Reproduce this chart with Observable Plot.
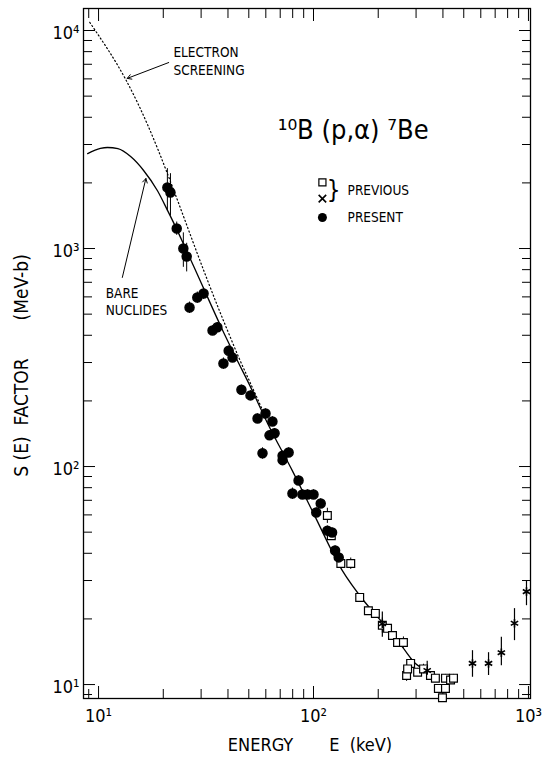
<!DOCTYPE html>
<html><head><meta charset="utf-8">
<script src="https://cdn.jsdelivr.net/npm/d3@7"></script>
<script src="https://cdn.jsdelivr.net/npm/@observablehq/plot@0.6"></script>
<style>
html,body{margin:0;padding:0;background:#fff}
</style>
</head><body><div id="chart"></div>
<script>
// ---- data ----
const presentE = [20.9, 21.6, 23.1, 24.8, 25.7, 26.5, 28.8, 30.8, 33.9, 35.7, 40.3, 42.0, 38.1, 46.2, 50.9, 54.9, 59.8, 64.4, 62.4, 65.9, 57.9, 71.8, 71.8, 76.6, 85.2, 79.8, 88.8, 93.8, 100, 108, 103, 116, 122, 126, 131];
const presentS = [1906, 1807, 1236, 1000, 919, 536, 596, 622, 421, 435, 340, 316, 297, 225, 212, 166, 175, 161, 139, 142, 115, 112, 107, 116, 86.3, 75.2, 74.4, 74.4, 74.4, 67.7, 61.5, 50.8, 49.8, 41.2, 38.3];
const presentErr = [22, 22, 7, 18, 15, 6, 6, 6, 5, 5, 5, 5, 6, 5, 5, 5, 5, 5, 5, 5, 6, 5, 5, 5, 5, 6, 5, 5, 5, 5, 5, 5, 5, 5, 5];

const previousE = [116, 121, 134, 149, 164, 180, 194, 209, 221, 233, 246, 262, 283, 271, 274, 305, 325, 350, 369, 411, 381, 411, 398, 434, 448];
const previousS = [59.6, 48.2, 35.9, 35.9, 25.1, 21.8, 21.2, 18.7, 18.1, 16.8, 15.6, 15.6, 12.5, 11.0, 11.8, 11.4, 11.8, 11.0, 10.7, 10.7, 9.6, 9.6, 8.7, 10.5, 10.7];
const previousErr = [8, 4, 4, 6, 4, 4, 4, 8, 4, 4, 4, 6, 5, 6, 4, 4, 5, 4, 4, 4, 4, 4, 4, 4, 4];

const crossE = [209, 338, 549, 652, 748, 861, 979];
const crossS = [19.0, 11.6, 12.5, 12.5, 14.0, 19.1, 26.7];
const crossLo = [16.5, 10.6, 10.8, 11.0, 12.2, 15.9, 23.0];
const crossHi = [21.5, 12.8, 14.3, 14.0, 16.5, 22.3, 30.0];

const bareE = [8.9, 10.2, 11.0, 12.3, 14.1, 16.2, 18.8, 20.9, 22.8, 25.4, 27.7, 32.1, 37.8, 43.4, 50.9, 61.1, 80, 100, 136, 171, 205, 260, 298, 340];
const bareS = [2724, 2877, 2906, 2870, 2640, 2280, 1840, 1500, 1260, 1000, 830, 600, 421, 318, 232, 158, 95, 61, 33.4, 24.3, 19.7, 14.8, 12.5, 11.6];

const screenE = [9.1, 10.0, 11.0, 12.3, 13.4, 15.2, 16.9, 18.8, 20.5, 23.3, 25.9, 28.9, 32.1, 36.9, 39.8, 45, 52, 60];
const screenS = [10900, 9500, 8240, 6900, 5940, 4650, 3700, 2880, 2320, 1664, 1257, 940, 716, 505, 421, 315, 230, 168];

const xMajor = [10, 100, 1000];
const xMinor = [9, 20, 30, 40, 50, 60, 70, 80, 90, 200, 300, 400, 500, 600, 700, 800, 900];
const yMajor = [10, 100, 1000, 10000];
const yMinor = [9, 20, 30, 40, 50, 60, 70, 80, 90, 200, 300, 400, 500, 600, 700, 800, 900, 2000, 3000, 4000, 5000, 6000, 7000, 8000, 9000];
const tickText = {10: "10¹", 100: "10²", 1000: "10³", 10000: "10⁴"};

const sp = n => "\u00A0".repeat(n);
const xTitle = "ENERGY" + sp(7) + "E" + sp(2) + "(keV)";
const yTitle = "S" + sp(1) + "(E)" + sp(2) + "FACTOR" + sp(7) + "(MeV-b)";
const reaction = "¹⁰B (p,α) ⁷Be";
const notes = [
  {E: 22.3, S: 7930, t: "ELECTRON"},
  {E: 22.3, S: 6560, t: "SCREENING"},
  {E: 10.8, S: 622, t: "BARE"},
  {E: 10.8, S: 520, t: "NUCLIDES"}
];
const pointers = [
  {x1: 21.2, y1: 7130, x2: 13.6, y2: 6030},
  {x1: 12.9, y1: 737, x2: 16.6, y2: 2094}
];
const legendSym = [
  {E: 110, S: 2010, kind: "square"},
  {E: 110, S: 1694, kind: "cross"},
  {E: 110, S: 1387, kind: "dot"}
];
const legendText = [
  {E: 144, S: 1845, t: "PREVIOUS"},
  {E: 144, S: 1387, t: "PRESENT"}
];
const brace = [{E: 124, S: 1845, t: "}"}];
const reactionPos = [{E: 68.1, S: 3475, t: reaction}];

// ---- tables ----
const present = presentE.map((E, i) => ({E, S: presentS[i], err: presentErr[i]}));
const previous = previousE.map((E, i) => ({E, S: previousS[i], err: previousErr[i]}));
const crosses = crossE.map((E, i) => ({E, S: crossS[i], lo: crossLo[i], hi: crossHi[i]}));
const bare = bareE.map((E, i) => ({E, S: bareS[i]}));
const screen = screenE.map((E, i) => ({E, S: screenS[i]}));

const FONT = "'DejaVu Sans Condensed','Liberation Sans Narrow','Roboto',sans-serif";
const blank = () => "";

const chart = Plot.plot({
  width: 542,
  height: 757,
  marginLeft: 83,
  marginRight: 12,
  marginTop: 8,
  marginBottom: 59,
  x: {type: "log", domain: [8.51, 1022]},
  y: {type: "log", domain: [8.63, 12617]},
  style: {fontFamily: FONT, background: "white", color: "black", overflow: "visible"},
  marks: [
    Plot.frame({stroke: "black", strokeWidth: 1.3}),
    // inward ticks on all four sides
    Plot.axisX(xMajor, {anchor: "bottom", tickSize: -12, tickFormat: blank, label: null}),
    Plot.axisX(xMinor, {anchor: "bottom", tickSize: -9, tickFormat: blank, label: null}),
    Plot.axisX(xMajor, {anchor: "top", tickSize: -12, tickFormat: blank, label: null}),
    Plot.axisX(xMinor, {anchor: "top", tickSize: -9, tickFormat: blank, label: null}),
    Plot.axisY(yMajor, {anchor: "left", tickSize: -12, tickFormat: blank, label: null}),
    Plot.axisY(yMinor, {anchor: "left", tickSize: -9, tickFormat: blank, label: null}),
    Plot.axisY(yMajor, {anchor: "right", tickSize: -12, tickFormat: blank, label: null}),
    Plot.axisY(yMinor, {anchor: "right", tickSize: -9, tickFormat: blank, label: null}),
    // tick labels
    Plot.axisX(xMajor, {anchor: "bottom", tickSize: 0, tickPadding: 11, tickFormat: d => tickText[d], fontSize: 18, label: null}),
    Plot.axisY(yMajor, {anchor: "left", tickSize: 0, tickPadding: 4, tickFormat: d => tickText[d], fontSize: 18, label: null, dy: 3}),
    // axis titles
    Plot.text([xTitle], {frameAnchor: "bottom", textAnchor: "middle", lineAnchor: "middle", dy: 47, dx: 3, fontSize: 18, text: d => d}),
    Plot.text([yTitle], {frameAnchor: "left", textAnchor: "middle", lineAnchor: "middle", dx: -62, dy: 12, rotate: -90, fontSize: 19, text: d => d}),
    // curves
    Plot.line(screen, {x: "E", y: "S", stroke: "black", strokeWidth: 1.2, strokeDasharray: "1.2,2.6", curve: "monotone-x"}),
    Plot.line(bare, {x: "E", y: "S", stroke: "black", strokeWidth: 1.3, curve: "monotone-x"}),
    // error bars
    Plot.ruleX(present, {x: "E", y1: d => d.S * (1 - d.err / 100), y2: d => d.S * (1 + d.err / 100), stroke: "black", strokeWidth: 1}),
    Plot.ruleX(previous, {x: "E", y1: d => d.S * (1 - d.err / 100), y2: d => d.S * (1 + d.err / 100), stroke: "black", strokeWidth: 1}),
    Plot.ruleX(crosses, {x: "E", y1: "lo", y2: "hi", stroke: "black", strokeWidth: 1.2}),
    // points
    Plot.dot(previous, {x: "E", y: "S", symbol: "square", r: 4.4, fill: "white", stroke: "black", strokeWidth: 1.2}),
    Plot.dot(present, {x: "E", y: "S", symbol: "circle", r: 4.5, fill: "black", stroke: "black"}),
    Plot.dot(crosses, {x: "E", y: "S", symbol: "asterisk", r: 4, stroke: "black", strokeWidth: 1.6}),
    // annotations
    Plot.text(notes, {x: "E", y: "S", text: "t", textAnchor: "start", fontSize: 13.5}),
    Plot.arrow(pointers, {x1: "x1", y1: "y1", x2: "x2", y2: "y2", stroke: "black", strokeWidth: 1, headLength: 7, bend: 0}),
    Plot.text(reactionPos, {x: "E", y: "S", text: "t", textAnchor: "start", fontSize: 27}),
    // legend
    Plot.dot(legendSym.filter(d => d.kind === "square"), {x: "E", y: "S", symbol: "square", r: 4, fill: "white", stroke: "black", strokeWidth: 1.2}),
    Plot.dot(legendSym.filter(d => d.kind === "cross"), {x: "E", y: "S", symbol: "times", r: 3.5, stroke: "black", strokeWidth: 1.6}),
    Plot.dot(legendSym.filter(d => d.kind === "dot"), {x: "E", y: "S", symbol: "circle", r: 4.5, fill: "black"}),
    Plot.text(brace, {x: "E", y: "S", text: "t", fontSize: 24, fontWeight: 300}),
    Plot.text(legendText, {x: "E", y: "S", text: "t", textAnchor: "start", fontSize: 13.5})
  ]
});
document.getElementById("chart").appendChild(chart);
</script>
</body></html>
